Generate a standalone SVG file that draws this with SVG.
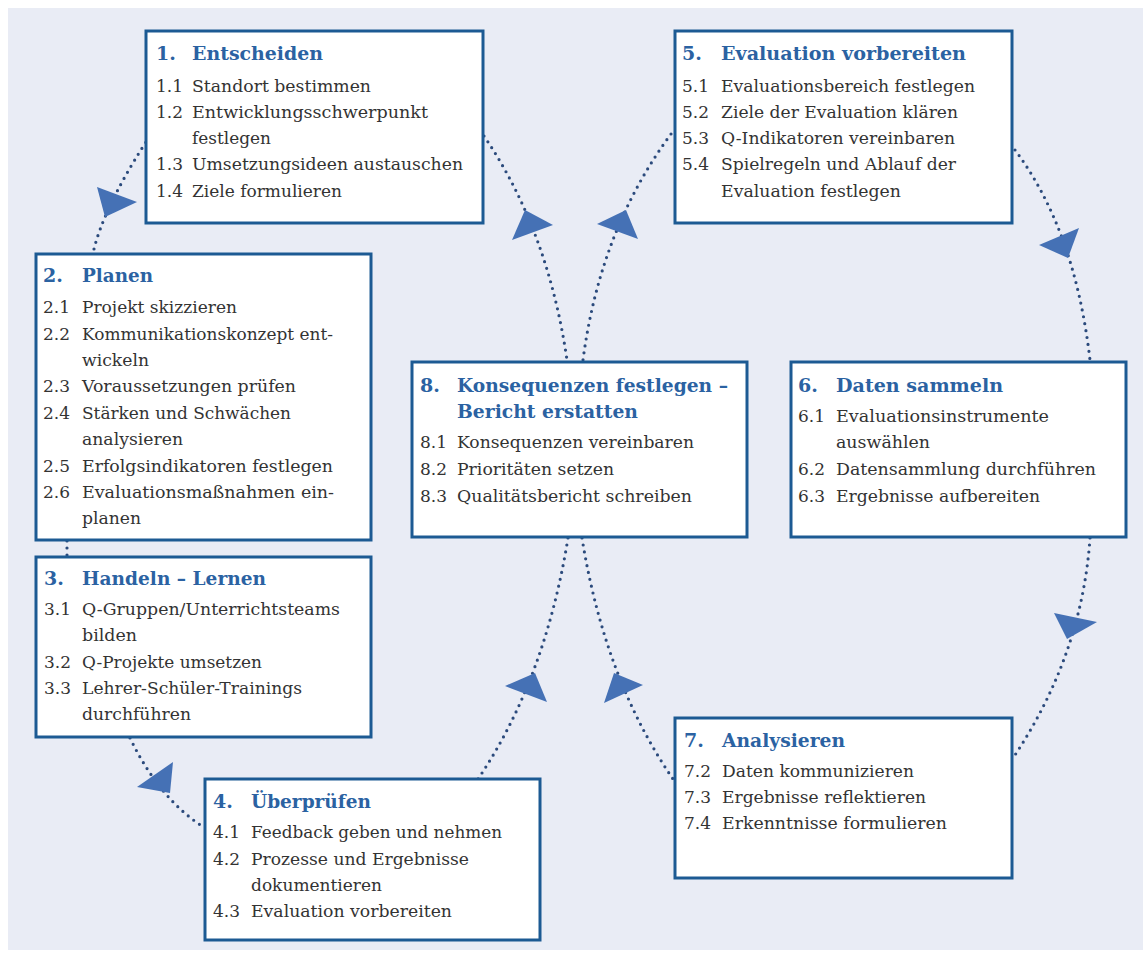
<svg xmlns="http://www.w3.org/2000/svg" width="1143" height="958" viewBox="0 0 1143 958">
<style>
.box{fill:#ffffff;stroke:#1c5a93;stroke-width:3}
.t{font-family:"DejaVu Serif","Liberation Serif",serif;font-weight:bold;font-size:19px;fill:#2b62a2}
.i{font-family:"DejaVu Serif","Liberation Serif",serif;font-size:17px;fill:#333333}
.dot{fill:none;stroke:#2b4a7c;stroke-width:3.2;stroke-linecap:round;stroke-dasharray:0 7}
.ah{fill:#4571b5}
</style>
<rect x="0" y="0" width="1143" height="958" fill="#ffffff"/>
<rect x="8" y="8" width="1135" height="942" fill="#e9ecf5"/>
<g id="connectors">
  <path class="dot" d="M94,249 C100,225 115,190 146,142"/>
  <path class="dot" d="M67,541 L67,556"/>
  <path class="dot" d="M130,738 Q160,800 205,828"/>
  <path class="dot" d="M568,538 Q545,680 478,779"/>
  <path class="dot" d="M484,136 Q548,230 567,360"/>
  <path class="dot" d="M671,134 Q600,230 583,360"/>
  <path class="dot" d="M1015,150 Q1075,230 1090,360"/>
  <path class="dot" d="M1090,538 Q1082,655 1013,758"/>
  <path class="dot" d="M582,538 Q605,680 673,779"/>
  <polygon class="ah" points="97,187 137,202 105,217"/>
  <polygon class="ah" points="525,210 553,225 512,240"/>
  <polygon class="ah" points="626,210 597,224 638,239"/>
  <polygon class="ah" points="1079,228 1039,245 1068,258"/>
  <polygon class="ah" points="1054,613 1097,622 1067,639"/>
  <polygon class="ah" points="614,673 643,685 604,703"/>
  <polygon class="ah" points="535,673 547,702 505,686"/>
  <polygon class="ah" points="173,762 170,793 137,787"/>
</g>
<g id="node1">
  <rect class="box" x="146" y="31" width="337" height="192"/>
  <text class="t" x="156" y="60">1.</text>
  <text class="t" x="192" y="60" textLength="131" lengthAdjust="spacingAndGlyphs">Entscheiden</text>
  <text class="i" x="156" y="92">1.1</text>
  <text class="i" x="192" y="92" textLength="179" lengthAdjust="spacingAndGlyphs">Standort bestimmen</text>
  <text class="i" x="156" y="118">1.2</text>
  <text class="i" x="192" y="118" textLength="236" lengthAdjust="spacingAndGlyphs">Entwicklungsschwerpunkt</text>
  <text class="i" x="192" y="144" textLength="79" lengthAdjust="spacingAndGlyphs">festlegen</text>
  <text class="i" x="156" y="170">1.3</text>
  <text class="i" x="192" y="170" textLength="271" lengthAdjust="spacingAndGlyphs">Umsetzungsideen austauschen</text>
  <text class="i" x="156" y="197">1.4</text>
  <text class="i" x="192" y="197" textLength="150" lengthAdjust="spacingAndGlyphs">Ziele formulieren</text>
</g>
<g id="node2">
  <rect class="box" x="36" y="254" width="335" height="286"/>
  <text class="t" x="43" y="282">2.</text>
  <text class="t" x="82" y="282" textLength="71" lengthAdjust="spacingAndGlyphs">Planen</text>
  <text class="i" x="43" y="313">2.1</text>
  <text class="i" x="82" y="313" textLength="155" lengthAdjust="spacingAndGlyphs">Projekt skizzieren</text>
  <text class="i" x="43" y="340">2.2</text>
  <text class="i" x="82" y="340" textLength="251" lengthAdjust="spacingAndGlyphs">Kommunikationskonzept ent-</text>
  <text class="i" x="82" y="366" textLength="67" lengthAdjust="spacingAndGlyphs">wickeln</text>
  <text class="i" x="43" y="392">2.3</text>
  <text class="i" x="82" y="392" textLength="214" lengthAdjust="spacingAndGlyphs">Voraussetzungen prüfen</text>
  <text class="i" x="43" y="419">2.4</text>
  <text class="i" x="82" y="419" textLength="209" lengthAdjust="spacingAndGlyphs">Stärken und Schwächen</text>
  <text class="i" x="82" y="445" textLength="101" lengthAdjust="spacingAndGlyphs">analysieren</text>
  <text class="i" x="43" y="472">2.5</text>
  <text class="i" x="82" y="472" textLength="251" lengthAdjust="spacingAndGlyphs">Erfolgsindikatoren festlegen</text>
  <text class="i" x="43" y="498">2.6</text>
  <text class="i" x="82" y="498" textLength="252" lengthAdjust="spacingAndGlyphs">Evaluationsmaßnahmen ein-</text>
  <text class="i" x="82" y="524" textLength="59" lengthAdjust="spacingAndGlyphs">planen</text>
</g>
<g id="node3">
  <rect class="box" x="36" y="557" width="335" height="180"/>
  <text class="t" x="44" y="585">3.</text>
  <text class="t" x="82" y="585" textLength="184" lengthAdjust="spacingAndGlyphs">Handeln – Lernen</text>
  <text class="i" x="44" y="615">3.1</text>
  <text class="i" x="82" y="615" textLength="258" lengthAdjust="spacingAndGlyphs">Q-Gruppen/Unterrichtsteams</text>
  <text class="i" x="82" y="641" textLength="55" lengthAdjust="spacingAndGlyphs">bilden</text>
  <text class="i" x="44" y="668">3.2</text>
  <text class="i" x="82" y="668" textLength="180" lengthAdjust="spacingAndGlyphs">Q-Projekte umsetzen</text>
  <text class="i" x="44" y="694">3.3</text>
  <text class="i" x="82" y="694" textLength="220" lengthAdjust="spacingAndGlyphs">Lehrer-Schüler-Trainings</text>
  <text class="i" x="82" y="720" textLength="109" lengthAdjust="spacingAndGlyphs">durchführen</text>
</g>
<g id="node4">
  <rect class="box" x="205" y="779" width="335" height="161"/>
  <text class="t" x="213" y="808">4.</text>
  <text class="t" x="251" y="808" textLength="120" lengthAdjust="spacingAndGlyphs">Überprüfen</text>
  <text class="i" x="213" y="838">4.1</text>
  <text class="i" x="251" y="838" textLength="251" lengthAdjust="spacingAndGlyphs">Feedback geben und nehmen</text>
  <text class="i" x="213" y="865">4.2</text>
  <text class="i" x="251" y="865" textLength="218" lengthAdjust="spacingAndGlyphs">Prozesse und Ergebnisse</text>
  <text class="i" x="251" y="891" textLength="131" lengthAdjust="spacingAndGlyphs">dokumentieren</text>
  <text class="i" x="213" y="917">4.3</text>
  <text class="i" x="251" y="917" textLength="201" lengthAdjust="spacingAndGlyphs">Evaluation vorbereiten</text>
</g>
<g id="node5">
  <rect class="box" x="675" y="31" width="337" height="192"/>
  <text class="t" x="682" y="60">5.</text>
  <text class="t" x="721" y="60" textLength="245" lengthAdjust="spacingAndGlyphs">Evaluation vorbereiten</text>
  <text class="i" x="682" y="92">5.1</text>
  <text class="i" x="721" y="92" textLength="254" lengthAdjust="spacingAndGlyphs">Evaluationsbereich festlegen</text>
  <text class="i" x="682" y="118">5.2</text>
  <text class="i" x="721" y="118" textLength="237" lengthAdjust="spacingAndGlyphs">Ziele der Evaluation klären</text>
  <text class="i" x="682" y="144">5.3</text>
  <text class="i" x="721" y="144" textLength="234" lengthAdjust="spacingAndGlyphs">Q-Indikatoren vereinbaren</text>
  <text class="i" x="682" y="170">5.4</text>
  <text class="i" x="721" y="170" textLength="235" lengthAdjust="spacingAndGlyphs">Spielregeln und Ablauf der</text>
  <text class="i" x="721" y="197" textLength="180" lengthAdjust="spacingAndGlyphs">Evaluation festlegen</text>
</g>
<g id="node6">
  <rect class="box" x="791" y="362" width="335" height="175"/>
  <text class="t" x="798" y="392">6.</text>
  <text class="t" x="836" y="392" textLength="167" lengthAdjust="spacingAndGlyphs">Daten sammeln</text>
  <text class="i" x="798" y="422">6.1</text>
  <text class="i" x="836" y="422" textLength="213" lengthAdjust="spacingAndGlyphs">Evaluationsinstrumente</text>
  <text class="i" x="836" y="448" textLength="94" lengthAdjust="spacingAndGlyphs">auswählen</text>
  <text class="i" x="798" y="475">6.2</text>
  <text class="i" x="836" y="475" textLength="260" lengthAdjust="spacingAndGlyphs">Datensammlung durchführen</text>
  <text class="i" x="798" y="502">6.3</text>
  <text class="i" x="836" y="502" textLength="204" lengthAdjust="spacingAndGlyphs">Ergebnisse aufbereiten</text>
</g>
<g id="node7">
  <rect class="box" x="675" y="718" width="337" height="160"/>
  <text class="t" x="684" y="747">7.</text>
  <text class="t" x="722" y="747" textLength="123" lengthAdjust="spacingAndGlyphs">Analysieren</text>
  <text class="i" x="684" y="777">7.2</text>
  <text class="i" x="722" y="777" textLength="192" lengthAdjust="spacingAndGlyphs">Daten kommunizieren</text>
  <text class="i" x="684" y="803">7.3</text>
  <text class="i" x="722" y="803" textLength="204" lengthAdjust="spacingAndGlyphs">Ergebnisse reflektieren</text>
  <text class="i" x="684" y="829">7.4</text>
  <text class="i" x="722" y="829" textLength="225" lengthAdjust="spacingAndGlyphs">Erkenntnisse formulieren</text>
</g>
<g id="node8">
  <rect class="box" x="412" y="362" width="335" height="175"/>
  <text class="t" x="420" y="392">8.</text>
  <text class="t" x="457" y="392" textLength="271" lengthAdjust="spacingAndGlyphs">Konsequenzen festlegen –</text>
  <text class="t" x="457" y="418" textLength="181" lengthAdjust="spacingAndGlyphs">Bericht erstatten</text>
  <text class="i" x="420" y="448">8.1</text>
  <text class="i" x="457" y="448" textLength="237" lengthAdjust="spacingAndGlyphs">Konsequenzen vereinbaren</text>
  <text class="i" x="420" y="475">8.2</text>
  <text class="i" x="457" y="475" textLength="157" lengthAdjust="spacingAndGlyphs">Prioritäten setzen</text>
  <text class="i" x="420" y="502">8.3</text>
  <text class="i" x="457" y="502" textLength="235" lengthAdjust="spacingAndGlyphs">Qualitätsbericht schreiben</text>
</g>
</svg>
